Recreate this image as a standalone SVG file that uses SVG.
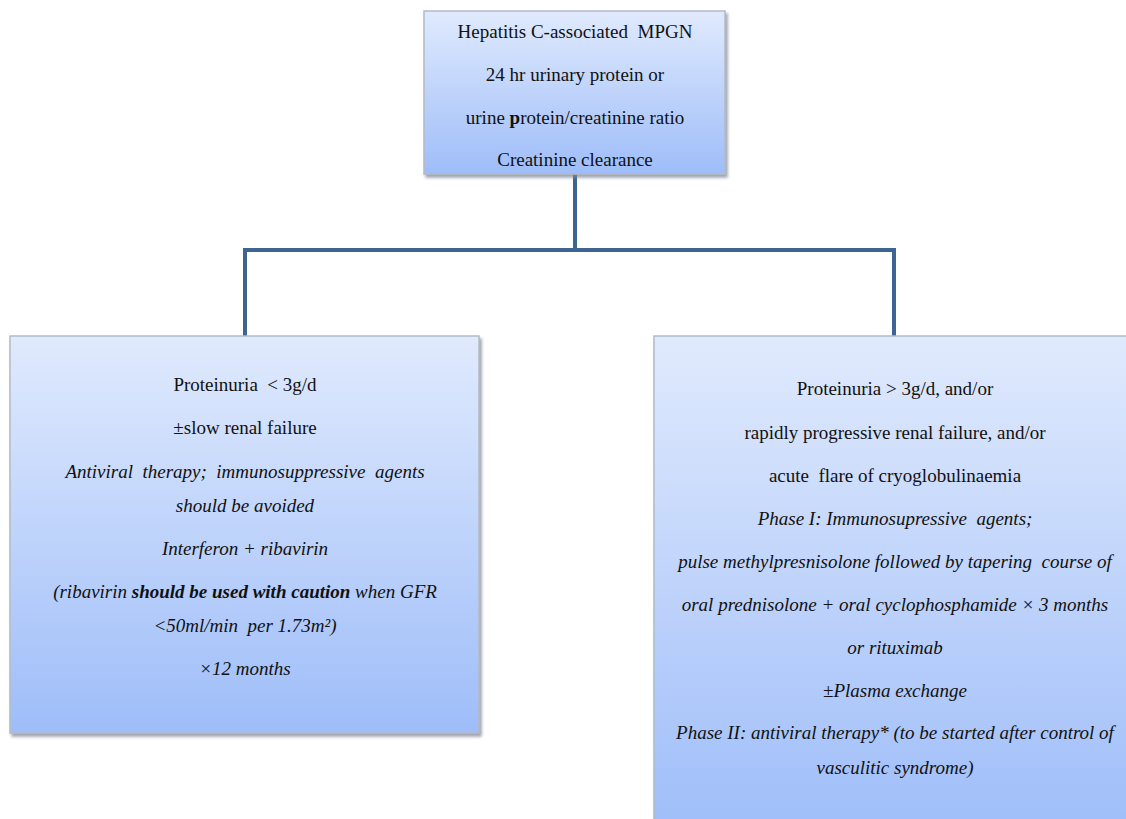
<svg xmlns="http://www.w3.org/2000/svg" width="1126" height="819" viewBox="0 0 1126 819">
  <defs>
    <linearGradient id="boxFill" x1="0" y1="0" x2="0" y2="1">
      <stop offset="0" stop-color="#e0eafd"/>
      <stop offset="1" stop-color="#9ebdf9"/>
    </linearGradient>
    <filter id="shadow" x="-5%" y="-5%" width="112%" height="112%">
      <feDropShadow dx="2" dy="3" stdDeviation="1.5" flood-color="#7d8595" flood-opacity="0.75"/>
    </filter>
    <style>
      .box { fill: url(#boxFill); stroke: #b3bac6; stroke-width: 1.5; filter: url(#shadow); }
      .t { font-family: "Liberation Serif", "Times New Roman", serif; font-size: 19px; fill: #111; text-anchor: middle; white-space: pre; }
      .i { font-style: italic; }
      .b { font-weight: bold; }
      .conn { fill: none; stroke: #3e6494; stroke-width: 4; stroke-linecap: square; }
    </style>
  </defs>
  <rect width="1126" height="819" fill="#ffffff"/>

  <g id="connectors">
    <path class="conn" d="M575 176 V250 M245 336 V250 H894 V336"/>
  </g>

  <g id="node-top">
    <rect class="box" x="424" y="11" width="301" height="163"/>
    <text class="t" x="575" y="38" xml:space="preserve">Hepatitis C-associated  MPGN</text>
    <text class="t" x="575" y="81">24 hr urinary protein or</text>
    <text class="t" x="575" y="124">urine <tspan class="b">p</tspan>rotein/creatinine ratio</text>
    <text class="t" x="575" y="166">Creatinine clearance</text>
  </g>

  <g id="node-left">
    <rect class="box" x="10" y="336" width="469" height="397"/>
    <text class="t" x="245" y="391" xml:space="preserve">Proteinuria  &lt; 3g/d</text>
    <text class="t" x="245" y="434">±slow renal failure</text>
    <text class="t i" x="245" y="478" xml:space="preserve">Antiviral  therapy;  immunosuppressive  agents</text>
    <text class="t i" x="245" y="512">should be avoided</text>
    <text class="t i" x="245" y="555">Interferon + ribavirin</text>
    <text class="t i" x="245" y="598">(ribavirin <tspan class="b">should be used with caution</tspan> when GFR</text>
    <text class="t i" x="245" y="632" xml:space="preserve">&lt;50ml/min  per 1.73m²)</text>
    <text class="t i" x="245" y="675">×12 months</text>
  </g>

  <g id="node-right">
    <rect class="box" x="654" y="336" width="485" height="500"/>
    <text class="t" x="895" y="395" xml:space="preserve">Proteinuria &gt; 3g/d, and/or</text>
    <text class="t" x="895" y="439">rapidly progressive renal failure, and/or</text>
    <text class="t" x="895" y="482" xml:space="preserve">acute  flare of cryoglobulinaemia</text>
    <text class="t i" x="895" y="525" xml:space="preserve">Phase I: Immunosupressive  agents;</text>
    <text class="t i" x="895" y="568" xml:space="preserve">pulse methylpresnisolone followed by tapering  course of</text>
    <text class="t i" x="895" y="611">oral prednisolone + oral cyclophosphamide × 3 months</text>
    <text class="t i" x="895" y="654">or rituximab</text>
    <text class="t i" x="895" y="697">±Plasma exchange</text>
    <text class="t i" x="895" y="739">Phase II: antiviral therapy* (to be started after control of</text>
    <text class="t i" x="895" y="774">vasculitic syndrome)</text>
  </g>
</svg>
